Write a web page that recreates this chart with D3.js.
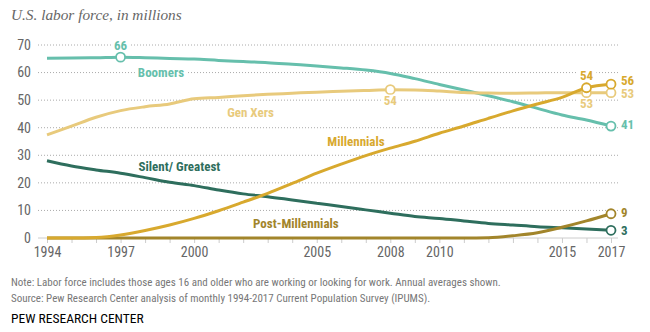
<!DOCTYPE html>
<html>
<head>
<meta charset="utf-8">
<script src="https://cdn.jsdelivr.net/npm/d3@7"></script>
<style>
  body { margin: 0; background: #fff; }
  svg { display: block; }
  .sans { font-family: "Liberation Sans Narrow", "Roboto Condensed", "Liberation Sans", Arial, sans-serif; }
</style>
</head>
<body>
<svg id="chart" width="650" height="332"></svg>
<script>
// Years and values (millions)
const years = d3.range(1994, 2018);
const boomers = [65.2, 65.3, 65.4, 65.6, 65.4, 65.1, 64.9, 64.4, 64.0, 63.6, 63.0, 62.4, 61.7, 60.9, 59.7, 57.8, 55.7, 53.7, 51.6, 49.4, 47.0, 44.6, 42.8, 40.6];
const genX = [37.4, 40.6, 43.8, 46.2, 47.6, 48.6, 50.5, 51.0, 51.6, 52.1, 52.5, 52.9, 53.2, 53.5, 53.8, 53.7, 53.3, 52.8, 52.6, 52.5, 52.6, 52.7, 52.7, 52.7];
const millennials = [0, 0, 0.2, 1.1, 2.7, 4.7, 7.1, 9.9, 13.0, 16.2, 19.8, 23.5, 26.8, 29.9, 32.6, 35.1, 38.0, 40.6, 43.4, 46.1, 48.6, 51.0, 54.5, 55.8];
const silent = [28.0, 26.1, 24.7, 23.5, 21.9, 20.2, 19.0, 17.4, 16.0, 15.0, 13.8, 12.6, 11.4, 10.2, 9.0, 7.8, 7.1, 6.2, 5.3, 4.7, 4.1, 3.7, 3.3, 2.8];
const postMillennials = [0, 0, 0, 0, 0, 0, 0, 0, 0, 0, 0, 0, 0, 0, 0, 0, 0, 0, 0.1, 0.8, 1.9, 3.9, 6.2, 8.8];

const yTicks = [0, 10, 20, 30, 40, 50, 60, 70];
const xTickLabels = [1994, 1997, 2000, 2005, 2008, 2010, 2015, 2017];

const series = [
    { name: "Boomers", values: boomers, color: "#66bfac" },
    { name: "Gen Xers", values: genX, color: "#e8ca7c" },
    { name: "Silent/ Greatest", values: silent, color: "#2e6e5d" },
    { name: "Post-Millennials", values: postMillennials, color: "#a2852b" },
    { name: "Millennials", values: millennials, color: "#d8a92e" }
];

const svg = d3.select("#chart");

const x = d3.scaleLinear().domain([1994, 2017]).range([47, 611]);
const y = d3.scaleLinear().domain([0, 70]).range([238, 45]);

// Title
svg.append("text")
    .attr("x", 11).attr("y", 20)
    .style("font-family", "'Liberation Serif', 'DejaVu Serif', serif")
    .style("font-style", "italic")
    .style("font-size", "15.3px")
    .style("fill", "#666")
    .text("U.S. labor force, in millions");

// Gridlines
svg.append("g")
    .selectAll("line")
    .data(yTicks.filter(d => d > 0))
    .enter().append("line")
    .attr("x1", 38).attr("x2", 618)
    .attr("y1", d => y(d)).attr("y2", d => y(d))
    .attr("stroke", "#aaa")
    .attr("stroke-width", 1)
    .attr("stroke-dasharray", "1,2");

// Y labels
svg.append("g")
    .selectAll("text")
    .data(yTicks)
    .enter().append("text")
    .attr("class", "sans")
    .attr("x", 31).attr("y", d => y(d))
    .attr("dy", "0.35em")
    .attr("text-anchor", "end")
    .style("font-size", "14px")
    .style("fill", "#666")
    .text(d => d);

// X axis: tick on every year, labels on a few
const xAxis = d3.axisBottom(x)
    .tickValues(years)
    .tickSize(5)
    .tickFormat(d => xTickLabels.includes(d) ? d : "");

const gx = svg.append("g")
    .attr("transform", `translate(0, ${y(0)})`)
    .call(xAxis);
gx.select(".domain").remove();
gx.insert("line", ":first-child")
    .attr("x1", 38).attr("x2", 618)
    .attr("stroke", "#ccc");
gx.selectAll(".tick line").attr("stroke", "#ccc");
gx.selectAll("text")
    .attr("class", "sans")
    .attr("y", 9)
    .style("font-size", "14px")
    .style("fill", "#666");

// Lines
const line = d3.line()
    .x((d, i) => x(years[i]))
    .y(d => y(d))
    .curve(d3.curveMonotoneX);

svg.append("g")
    .selectAll("path")
    .data(series)
    .enter().append("path")
    .attr("d", d => line(d.values))
    .attr("fill", "none")
    .attr("stroke", d => d.color)
    .attr("stroke-width", 3);

// Markers
function marker(s, year) {
    const i = years.indexOf(year);
    svg.append("circle")
        .attr("cx", x(year)).attr("cy", y(s.values[i]))
        .attr("r", 4.5)
        .attr("fill", "#fff")
        .attr("stroke", s.color)
        .attr("stroke-width", 1.8);
}

const [sBoom, sGenX, sSilent, sPost, sMill] = series;
marker(sBoom, 1997);
marker(sGenX, 2008);
marker(sGenX, 2016);
marker(sMill, 2016);
[sBoom, sGenX, sSilent, sPost, sMill].forEach(s => marker(s, 2017));

// Labels with white box behind (break the gridlines)
function label(txt, cx, cy, color, anchor, boxed) {
    const g = svg.append("g");
    const t = g.append("text")
        .attr("class", "sans")
        .attr("x", cx).attr("y", cy)
        .attr("dy", "0.35em")
        .attr("text-anchor", anchor || "middle")
        .style("font-size", "13px")
        .style("font-weight", "bold")
        .style("fill", color)
        .text(txt);
    if (boxed) {
        const b = t.node().getBBox();
        g.insert("rect", "text")
            .attr("x", b.x - 3).attr("y", b.y + 2)
            .attr("width", b.width + 6).attr("height", b.height - 4)
            .attr("fill", "#fff");
    }
}

// Series names
label("Boomers", x(1998.65), y(60), sBoom.color, "middle", true);
label("Gen Xers", x(2002.3), y(45.4), sGenX.color, "middle", false);
label("Millennials", x(2006.6), y(34.9), sMill.color, "middle", false);
label("Silent/ Greatest", x(1999.4), y(25.9), sSilent.color, "middle", false);
label("Post-Millennials", x(2004.15), y(5.3), sPost.color, "middle", false);

// Point values
label("66", x(1997), y(69.7), sBoom.color, "middle", true);
label("54", x(2008), y(50), sGenX.color, "middle", true);
label("53", x(2016), y(48.8), sGenX.color, "middle", true);
label("54", x(2016), y(59.1), sMill.color, "middle", true);

// End values
label("56", 621, y(57.3), sMill.color, "start", false);
label("53", 621, y(52.3), sGenX.color, "start", false);
label("41", 621, y(41.2), sBoom.color, "start", false);
label("9", 621, y(9.3), sPost.color, "start", false);
label("3", 621, y(2.7), sSilent.color, "start", false);

// Notes
const notes = [
    "Note: Labor force includes those ages 16 and older who are working or looking for work. Annual averages shown.",
    "Source: Pew Research Center analysis of monthly 1994-2017 Current Population Survey (IPUMS)."
];
svg.append("g")
    .selectAll("text")
    .data(notes)
    .enter().append("text")
    .attr("class", "sans")
    .attr("x", 11).attr("y", (d, i) => 286 + i * 16)
    .style("font-size", "11px")
    .style("fill", "#777")
    .text(d => d);

svg.append("text")
    .attr("class", "sans")
    .attr("x", 11).attr("y", 323)
    .style("font-size", "13.5px")
    .style("fill", "#000")
    .text("PEW RESEARCH CENTER");
</script>
</body>
</html>
